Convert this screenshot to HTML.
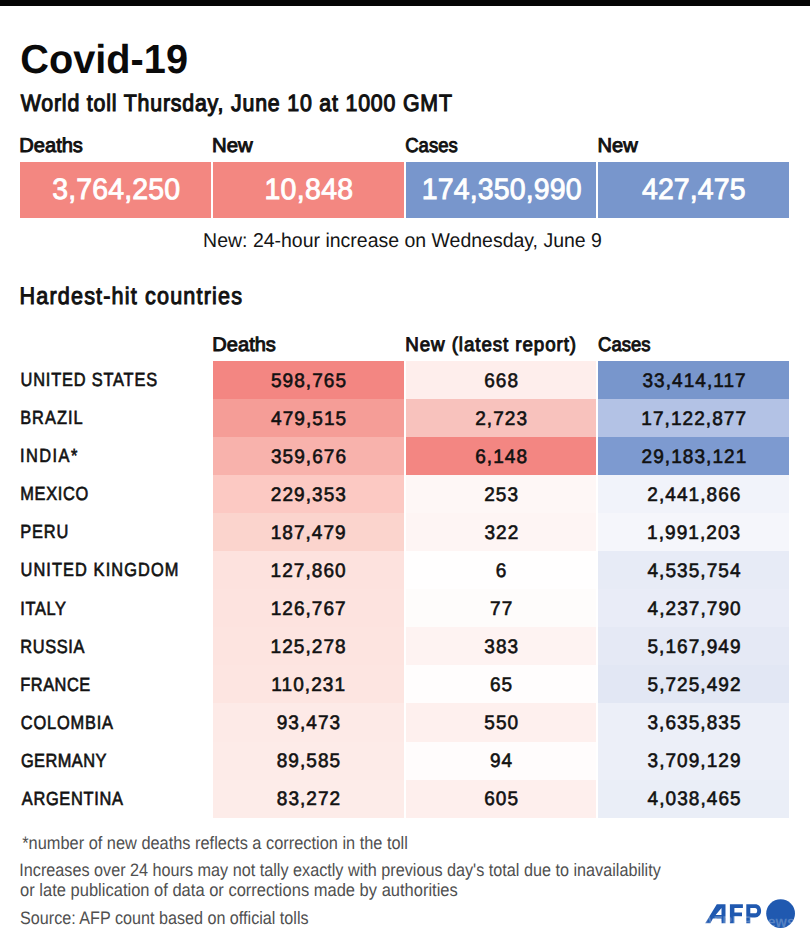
<!DOCTYPE html>
<html><head><meta charset="utf-8"><style>
html,body{margin:0;padding:0;background:#fff;}
body{width:810px;height:940px;overflow:hidden;}
svg{display:block;font-family:"Liberation Sans", sans-serif;}
</style></head><body>
<svg width="810" height="940" viewBox="0 0 810 940" text-rendering="geometricPrecision">
<rect width="810" height="940" fill="#fff"/>
<g shape-rendering="crispEdges">
<rect x="0" y="0" width="810" height="6" fill="#050505"/>
<rect x="20" y="162" width="190.75" height="55.6" fill="#f38781"/>
<rect x="212.75" y="162" width="190.75" height="55.6" fill="#f38781"/>
<rect x="405.5" y="162" width="190.75" height="55.6" fill="#7896cc"/>
<rect x="598.25" y="162" width="190.75" height="55.6" fill="#7896cc"/>
<rect x="212.75" y="361.00" width="190.75" height="38.07" fill="#f38682"/>
<rect x="405.5" y="361.00" width="190.75" height="38.07" fill="#feeeec"/>
<rect x="598.25" y="361.00" width="190.75" height="38.07" fill="#7896cc"/>
<rect x="212.75" y="399.05" width="190.75" height="38.07" fill="#f59d97"/>
<rect x="405.5" y="399.05" width="190.75" height="38.07" fill="#f8c2bd"/>
<rect x="598.25" y="399.05" width="190.75" height="38.07" fill="#b3c2e5"/>
<rect x="212.75" y="437.10" width="190.75" height="38.07" fill="#f8b2ac"/>
<rect x="405.5" y="437.10" width="190.75" height="38.07" fill="#f38682"/>
<rect x="598.25" y="437.10" width="190.75" height="38.07" fill="#7d9ad0"/>
<rect x="212.75" y="475.15" width="190.75" height="38.07" fill="#fcc9c3"/>
<rect x="405.5" y="475.15" width="190.75" height="38.07" fill="#fef7f6"/>
<rect x="598.25" y="475.15" width="190.75" height="38.07" fill="#f1f3fa"/>
<rect x="212.75" y="513.20" width="190.75" height="38.07" fill="#fbd4cd"/>
<rect x="405.5" y="513.20" width="190.75" height="38.07" fill="#fef5f4"/>
<rect x="598.25" y="513.20" width="190.75" height="38.07" fill="#f5f6fb"/>
<rect x="212.75" y="551.25" width="190.75" height="38.07" fill="#fde2de"/>
<rect x="405.5" y="551.25" width="190.75" height="38.07" fill="#fffefe"/>
<rect x="598.25" y="551.25" width="190.75" height="38.07" fill="#e7ebf6"/>
<rect x="212.75" y="589.30" width="190.75" height="38.07" fill="#fde3df"/>
<rect x="405.5" y="589.30" width="190.75" height="38.07" fill="#fefcfb"/>
<rect x="598.25" y="589.30" width="190.75" height="38.07" fill="#e9ecf7"/>
<rect x="212.75" y="627.35" width="190.75" height="38.07" fill="#fde4e0"/>
<rect x="405.5" y="627.35" width="190.75" height="38.07" fill="#fef3f2"/>
<rect x="598.25" y="627.35" width="190.75" height="38.07" fill="#e5e9f5"/>
<rect x="212.75" y="665.40" width="190.75" height="38.07" fill="#fde5e1"/>
<rect x="405.5" y="665.40" width="190.75" height="38.07" fill="#fffdfd"/>
<rect x="598.25" y="665.40" width="190.75" height="38.07" fill="#e2e7f4"/>
<rect x="212.75" y="703.45" width="190.75" height="38.07" fill="#fdeae7"/>
<rect x="405.5" y="703.45" width="190.75" height="38.07" fill="#fef0ee"/>
<rect x="598.25" y="703.45" width="190.75" height="38.07" fill="#eceff8"/>
<rect x="212.75" y="741.50" width="190.75" height="38.07" fill="#fdebe8"/>
<rect x="405.5" y="741.50" width="190.75" height="38.07" fill="#fffcfc"/>
<rect x="598.25" y="741.50" width="190.75" height="38.07" fill="#eceff8"/>
<rect x="212.75" y="779.55" width="190.75" height="38.07" fill="#fdece9"/>
<rect x="405.5" y="779.55" width="190.75" height="38.07" fill="#feefed"/>
<rect x="598.25" y="779.55" width="190.75" height="38.07" fill="#eaeef7"/>
</g>
<text x="20.37" y="72.60" font-size="40.55" font-weight="bold" fill="#0a0a0a" textLength="167.60" lengthAdjust="spacingAndGlyphs">Covid-19</text>
<text transform="translate(20.71,110.80) scale(0.9000,1)" letter-spacing="0.908" font-size="23.69" fill="#111" stroke="#111" stroke-width="1.1">World toll Thursday, June 10 at 1000 GMT</text>
<text x="19.35" y="151.60" font-size="20.06" fill="#111" stroke="#111" stroke-width="0.95" textLength="63.57" lengthAdjust="spacingAndGlyphs">Deaths</text>
<text x="212.13" y="151.60" font-size="20.06" fill="#111" stroke="#111" stroke-width="0.95" textLength="40.62" lengthAdjust="spacingAndGlyphs">New</text>
<text x="405.26" y="151.60" font-size="20.06" fill="#111" stroke="#111" stroke-width="0.95" textLength="52.41" lengthAdjust="spacingAndGlyphs">Cases</text>
<text x="597.55" y="151.60" font-size="20.06" fill="#111" stroke="#111" stroke-width="0.95" textLength="40.20" lengthAdjust="spacingAndGlyphs">New</text>
<text transform="translate(52.32,199.40) scale(0.9700,1)" letter-spacing="0.129" font-size="29.36" fill="#fff" stroke="#fff" stroke-width="0.9">3,764,250</text>
<text transform="translate(264.43,199.40) scale(0.9700,1)" letter-spacing="0.330" font-size="29.36" fill="#fff" stroke="#fff" stroke-width="0.9">10,848</text>
<text transform="translate(421.73,199.40) scale(0.9700,1)" letter-spacing="0.166" font-size="29.36" fill="#fff" stroke="#fff" stroke-width="0.9">174,350,990</text>
<text transform="translate(641.95,199.40) scale(0.9700,1)" letter-spacing="0.121" font-size="29.36" fill="#fff" stroke="#fff" stroke-width="0.9">427,475</text>
<text x="203.10" y="246.50" font-size="19.91" fill="#151515" textLength="398.82" lengthAdjust="spacingAndGlyphs">New: 24-hour increase on Wednesday, June 9</text>
<text transform="translate(19.53,303.80) scale(0.9000,1)" letter-spacing="1.301" font-size="23.98" fill="#111" stroke="#111" stroke-width="1.0">Hardest-hit countries</text>
<text x="212.35" y="351.30" font-size="19.77" fill="#111" stroke="#111" stroke-width="0.95" textLength="63.57" lengthAdjust="spacingAndGlyphs">Deaths</text>
<text transform="translate(405.26,351.30) scale(0.9500,1)" letter-spacing="0.959" font-size="19.77" fill="#111" stroke="#111" stroke-width="0.95">New (latest report)</text>
<text x="598.06" y="351.30" font-size="19.77" fill="#111" stroke="#111" stroke-width="0.95" textLength="52.41" lengthAdjust="spacingAndGlyphs">Cases</text>
<text transform="translate(20.54,386.23) scale(0.8600,1)" letter-spacing="0.951" font-size="19.04" fill="#111" stroke="#111" stroke-width="0.65">UNITED STATES</text>
<text transform="translate(270.92,386.62) scale(0.9700,1)" letter-spacing="1.080" font-size="19.62" fill="#111" stroke="#111" stroke-width="0.6">598,765</text>
<text transform="translate(484.19,386.62) scale(0.9700,1)" letter-spacing="1.080" font-size="19.62" fill="#111" stroke="#111" stroke-width="0.6">668</text>
<text transform="translate(642.43,386.62) scale(0.9700,1)" letter-spacing="1.080" font-size="19.62" fill="#111" stroke="#111" stroke-width="0.6">33,414,117</text>
<text transform="translate(20.16,424.28) scale(0.8600,1)" letter-spacing="1.206" font-size="19.04" fill="#111" stroke="#111" stroke-width="0.65">BRAZIL</text>
<text transform="translate(271.09,424.68) scale(0.9700,1)" letter-spacing="1.080" font-size="19.62" fill="#111" stroke="#111" stroke-width="0.6">479,515</text>
<text transform="translate(475.22,424.68) scale(0.9700,1)" letter-spacing="1.080" font-size="19.62" fill="#111" stroke="#111" stroke-width="0.6">2,723</text>
<text transform="translate(641.37,424.68) scale(0.9700,1)" letter-spacing="1.080" font-size="19.62" fill="#111" stroke="#111" stroke-width="0.6">17,122,877</text>
<text transform="translate(20.09,462.33) scale(0.8600,1)" letter-spacing="1.662" font-size="19.04" fill="#111" stroke="#111" stroke-width="0.65">INDIA*</text>
<text transform="translate(270.96,462.73) scale(0.9700,1)" letter-spacing="1.080" font-size="19.62" fill="#111" stroke="#111" stroke-width="0.6">359,676</text>
<text transform="translate(475.21,462.73) scale(0.9700,1)" letter-spacing="1.080" font-size="19.62" fill="#111" stroke="#111" stroke-width="0.6">6,148</text>
<text transform="translate(641.60,462.73) scale(0.9700,1)" letter-spacing="1.080" font-size="19.62" fill="#111" stroke="#111" stroke-width="0.6">29,183,121</text>
<text transform="translate(20.26,500.38) scale(0.8600,1)" letter-spacing="0.782" font-size="19.04" fill="#111" stroke="#111" stroke-width="0.65">MEXICO</text>
<text transform="translate(270.84,500.77) scale(0.9700,1)" letter-spacing="1.080" font-size="19.62" fill="#111" stroke="#111" stroke-width="0.6">229,353</text>
<text transform="translate(484.20,500.77) scale(0.9700,1)" letter-spacing="1.080" font-size="19.62" fill="#111" stroke="#111" stroke-width="0.6">253</text>
<text transform="translate(647.36,500.77) scale(0.9700,1)" letter-spacing="1.080" font-size="19.62" fill="#111" stroke="#111" stroke-width="0.6">2,441,866</text>
<text transform="translate(20.26,538.43) scale(0.8600,1)" letter-spacing="1.021" font-size="19.04" fill="#111" stroke="#111" stroke-width="0.65">PERU</text>
<text transform="translate(270.63,538.83) scale(0.9700,1)" letter-spacing="1.080" font-size="19.62" fill="#111" stroke="#111" stroke-width="0.6">187,479</text>
<text transform="translate(484.38,538.83) scale(0.9700,1)" letter-spacing="1.080" font-size="19.62" fill="#111" stroke="#111" stroke-width="0.6">322</text>
<text transform="translate(647.12,538.83) scale(0.9700,1)" letter-spacing="1.080" font-size="19.62" fill="#111" stroke="#111" stroke-width="0.6">1,991,203</text>
<text transform="translate(20.54,576.48) scale(0.8600,1)" letter-spacing="1.265" font-size="19.04" fill="#111" stroke="#111" stroke-width="0.65">UNITED KINGDOM</text>
<text transform="translate(270.55,576.88) scale(0.9700,1)" letter-spacing="1.080" font-size="19.62" fill="#111" stroke="#111" stroke-width="0.6">127,860</text>
<text transform="translate(495.82,576.88) scale(0.9700,1)" letter-spacing="1.080" font-size="19.62" fill="#111" stroke="#111" stroke-width="0.6">6</text>
<text transform="translate(647.49,576.88) scale(0.9700,1)" letter-spacing="1.080" font-size="19.62" fill="#111" stroke="#111" stroke-width="0.6">4,535,754</text>
<text transform="translate(20.19,614.53) scale(0.8600,1)" letter-spacing="0.791" font-size="19.04" fill="#111" stroke="#111" stroke-width="0.65">ITALY</text>
<text transform="translate(270.66,614.93) scale(0.9700,1)" letter-spacing="1.080" font-size="19.62" fill="#111" stroke="#111" stroke-width="0.6">126,767</text>
<text transform="translate(490.06,614.93) scale(0.9700,1)" letter-spacing="1.080" font-size="19.62" fill="#111" stroke="#111" stroke-width="0.6">77</text>
<text transform="translate(647.58,614.93) scale(0.9700,1)" letter-spacing="1.080" font-size="19.62" fill="#111" stroke="#111" stroke-width="0.6">4,237,790</text>
<text transform="translate(20.36,652.58) scale(0.8600,1)" letter-spacing="0.707" font-size="19.04" fill="#111" stroke="#111" stroke-width="0.65">RUSSIA</text>
<text transform="translate(270.59,652.98) scale(0.9700,1)" letter-spacing="1.080" font-size="19.62" fill="#111" stroke="#111" stroke-width="0.6">125,278</text>
<text transform="translate(484.32,652.98) scale(0.9700,1)" letter-spacing="1.080" font-size="19.62" fill="#111" stroke="#111" stroke-width="0.6">383</text>
<text transform="translate(647.49,652.98) scale(0.9700,1)" letter-spacing="1.080" font-size="19.62" fill="#111" stroke="#111" stroke-width="0.6">5,167,949</text>
<text transform="translate(20.36,690.62) scale(0.8600,1)" letter-spacing="0.571" font-size="19.04" fill="#111" stroke="#111" stroke-width="0.65">FRANCE</text>
<text transform="translate(271.35,691.02) scale(0.9700,1)" letter-spacing="1.080" font-size="19.62" fill="#111" stroke="#111" stroke-width="0.6">110,231</text>
<text transform="translate(489.99,691.02) scale(0.9700,1)" letter-spacing="1.080" font-size="19.62" fill="#111" stroke="#111" stroke-width="0.6">65</text>
<text transform="translate(647.52,691.02) scale(0.9700,1)" letter-spacing="1.080" font-size="19.62" fill="#111" stroke="#111" stroke-width="0.6">5,725,492</text>
<text transform="translate(20.87,728.67) scale(0.8600,1)" letter-spacing="0.958" font-size="19.04" fill="#111" stroke="#111" stroke-width="0.65">COLOMBIA</text>
<text transform="translate(276.69,729.07) scale(0.9700,1)" letter-spacing="1.080" font-size="19.62" fill="#111" stroke="#111" stroke-width="0.6">93,473</text>
<text transform="translate(484.25,729.07) scale(0.9700,1)" letter-spacing="1.080" font-size="19.62" fill="#111" stroke="#111" stroke-width="0.6">550</text>
<text transform="translate(647.46,729.07) scale(0.9700,1)" letter-spacing="1.080" font-size="19.62" fill="#111" stroke="#111" stroke-width="0.6">3,635,835</text>
<text transform="translate(20.88,766.73) scale(0.8600,1)" letter-spacing="0.529" font-size="19.04" fill="#111" stroke="#111" stroke-width="0.65">GERMANY</text>
<text transform="translate(276.70,767.12) scale(0.9700,1)" letter-spacing="1.080" font-size="19.62" fill="#111" stroke="#111" stroke-width="0.6">89,585</text>
<text transform="translate(489.91,767.12) scale(0.9700,1)" letter-spacing="1.080" font-size="19.62" fill="#111" stroke="#111" stroke-width="0.6">94</text>
<text transform="translate(647.51,767.12) scale(0.9700,1)" letter-spacing="1.080" font-size="19.62" fill="#111" stroke="#111" stroke-width="0.6">3,709,129</text>
<text transform="translate(21.77,804.78) scale(0.8600,1)" letter-spacing="0.811" font-size="19.04" fill="#111" stroke="#111" stroke-width="0.65">ARGENTINA</text>
<text transform="translate(276.78,805.18) scale(0.9700,1)" letter-spacing="1.080" font-size="19.62" fill="#111" stroke="#111" stroke-width="0.6">83,272</text>
<text transform="translate(484.18,805.18) scale(0.9700,1)" letter-spacing="1.080" font-size="19.62" fill="#111" stroke="#111" stroke-width="0.6">605</text>
<text transform="translate(647.61,805.18) scale(0.9700,1)" letter-spacing="1.080" font-size="19.62" fill="#111" stroke="#111" stroke-width="0.6">4,038,465</text>
<text x="22.24" y="848.70" font-size="18.02" fill="#505050" textLength="385.66" lengthAdjust="spacingAndGlyphs">*number of new deaths reflects a correction in the toll</text>
<text x="19.30" y="876.30" font-size="18.02" fill="#505050" textLength="641.53" lengthAdjust="spacingAndGlyphs">Increases over 24 hours may not tally exactly with previous day's total due to inavailability</text>
<text x="20.11" y="895.50" font-size="18.02" fill="#505050" textLength="437.69" lengthAdjust="spacingAndGlyphs">or late publication of data or corrections made by authorities</text>
<text x="20.07" y="924.20" font-size="18.02" fill="#505050" textLength="288.51" lengthAdjust="spacingAndGlyphs">Source: AFP count based on official tolls</text>

<g fill="#2059b0" fill-rule="evenodd">
  <path d="M705.2 923.2 L716.8 904.2 L725.5 904.2 L725.5 923.2 L721.5 923.2 L721.5 918.5 L712.9 918.5 L710.4 923.2 Z M715.6 915.1 L721.5 915.1 L721.5 908.1 Z"/>
  <path d="M729.9 904.2 H742.9 V908.1 H734.4 V912.6 H742 V916.3 H734.4 V923.2 H729.9 Z"/>
  <path d="M746.3 904.2 H755 C758.8 904.2 761.1 906.9 761.1 910.85 C761.1 914.8 758.8 917.5 755 917.5 H750.3 V923.2 H746.3 Z M750.3 908.1 V913.3 H755 C756.4 913.3 757.2 912.3 757.2 910.7 C757.2 909.1 756.4 908.1 755 908.1 Z"/>
  <circle cx="780.6" cy="913.6" r="14.4"/>
</g>
<text x="703" y="927" font-size="15.5" font-weight="bold" fill="#fff" fill-opacity="0.25" textLength="92" lengthAdjust="spacingAndGlyphs">AFPBB News</text>
</svg>
</body></html>
